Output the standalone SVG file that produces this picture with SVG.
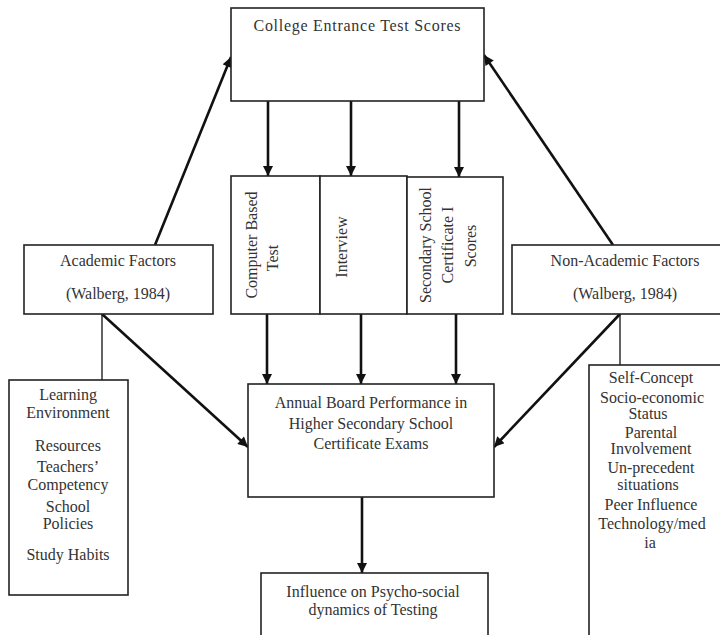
<svg xmlns="http://www.w3.org/2000/svg" width="720" height="635" viewBox="0 0 720 635">
<style>
.box{fill:#fff;stroke:#222;stroke-width:1.6}
.t{font-family:"Liberation Serif","Times New Roman",serif;font-size:16px;fill:#333;text-anchor:middle}
.arr{stroke:#111;stroke-width:2.6;fill:none;marker-end:url(#ah)}
.ln{stroke:#222;stroke-width:1.4;fill:none}
</style>
<defs>
<marker id="ah" viewBox="0 0 10 10" refX="10" refY="5" markerWidth="12" markerHeight="10" markerUnits="userSpaceOnUse" orient="auto">
<path d="M0,0 L10,5 L0,10 z" fill="#111"/>
</marker>
</defs>
<rect width="720" height="635" fill="#fff"/>

<g id="connectors">
<line class="ln" x1="102" y1="314" x2="102" y2="380"/>
<line class="ln" x1="620" y1="314" x2="620" y2="365"/>
<line class="arr" x1="268" y1="101" x2="268" y2="176"/>
<line class="arr" x1="351" y1="101" x2="351" y2="176"/>
<line class="arr" x1="459" y1="101" x2="459" y2="177"/>
<line class="arr" x1="267" y1="314" x2="267" y2="384"/>
<line class="arr" x1="361" y1="314" x2="361" y2="384"/>
<line class="arr" x1="456" y1="314" x2="456" y2="384"/>
<line class="arr" x1="362" y1="497" x2="362" y2="573"/>
<line class="arr" x1="155" y1="245" x2="231" y2="57"/>
<line class="arr" x1="613" y1="245" x2="484" y2="55"/>
<line class="arr" x1="102" y1="314" x2="248" y2="447"/>
<line class="arr" x1="620" y1="314" x2="494" y2="447"/>
</g>

<g id="college-entrance">
<rect class="box" x="231" y="8" width="253" height="93"/>
<text class="t" x="357" y="31" textLength="207" lengthAdjust="spacing">College Entrance Test Scores</text>
</g>

<g id="computer-based-test">
<rect class="box" x="231" y="176" width="89" height="138"/>
<text class="t" transform="translate(257,245) rotate(-90)">Computer Based</text>
<text class="t" transform="translate(278,258) rotate(-90)">Test</text>
</g>

<g id="interview">
<rect class="box" x="320" y="176" width="87" height="138"/>
<text class="t" transform="translate(347,247) rotate(-90)">Interview</text>
</g>

<g id="ssc-scores">
<rect class="box" x="407" y="177" width="96" height="137"/>
<text class="t" transform="translate(431,245) rotate(-90)">Secondary School</text>
<text class="t" transform="translate(453,245) rotate(-90)">Certificate I</text>
<text class="t" transform="translate(476,246) rotate(-90)">Scores</text>
</g>

<g id="academic-factors">
<rect class="box" x="24" y="245" width="189" height="69"/>
<text class="t" x="118" y="266">Academic Factors</text>
<text class="t" x="118" y="299">(Walberg, 1984)</text>
</g>

<g id="non-academic-factors">
<rect class="box" x="512" y="245" width="220" height="69"/>
<text class="t" x="625" y="266">Non-Academic Factors</text>
<text class="t" x="625" y="299">(Walberg, 1984)</text>
</g>

<g id="academic-list">
<rect class="box" x="9" y="380" width="119" height="215"/>
<text class="t" x="68" y="400">Learning</text>
<text class="t" x="68" y="418">Environment</text>
<text class="t" x="68" y="451">Resources</text>
<text class="t" x="68" y="472">Teachers’</text>
<text class="t" x="68" y="490">Competency</text>
<text class="t" x="68" y="512">School</text>
<text class="t" x="68" y="529">Policies</text>
<text class="t" x="68" y="560">Study Habits</text>
</g>

<g id="non-academic-list">
<rect class="box" x="589" y="365" width="140" height="290"/>
<text class="t" x="651" y="383">Self-Concept</text>
<text class="t" x="652" y="403">Socio-economic</text>
<text class="t" x="648" y="419">Status</text>
<text class="t" x="651" y="438">Parental</text>
<text class="t" x="651" y="454">Involvement</text>
<text class="t" x="651" y="473">Un-precedent</text>
<text class="t" x="648" y="490">situations</text>
<text class="t" x="651" y="510">Peer Influence</text>
<text class="t" x="652" y="529">Technology/med</text>
<text class="t" x="650" y="548">ia</text>
</g>

<g id="annual-board">
<rect class="box" x="248" y="384" width="246" height="113"/>
<text class="t" x="371" y="408">Annual Board Performance in</text>
<text class="t" x="371" y="429">Higher Secondary School</text>
<text class="t" x="371" y="449">Certificate Exams</text>
</g>

<g id="psycho-social">
<rect class="box" x="261" y="573" width="227" height="80"/>
<text class="t" x="373" y="597">Influence on Psycho-social</text>
<text class="t" x="373" y="615">dynamics of Testing</text>
</g>
</svg>
